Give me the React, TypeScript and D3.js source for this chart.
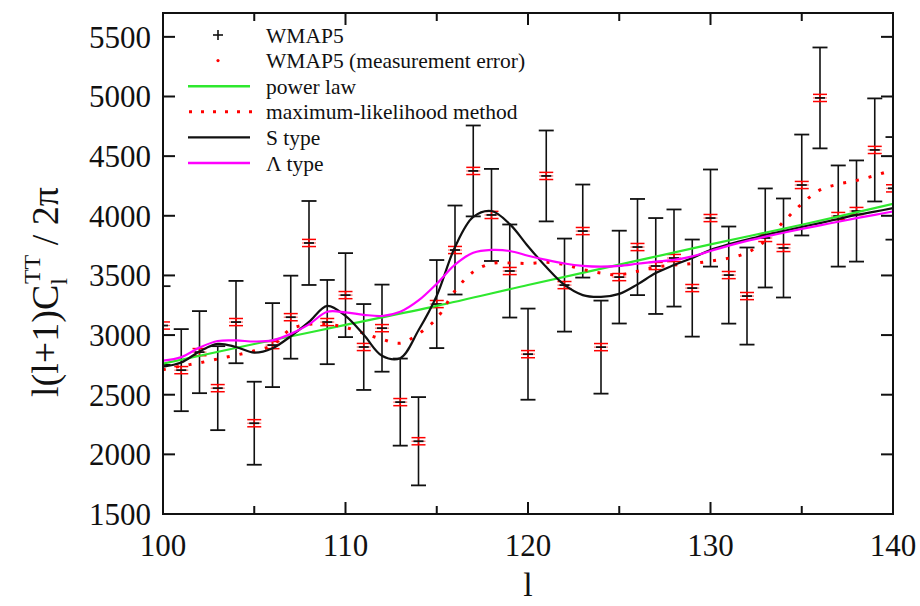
import React from "react";
import * as d3 from "d3";

// ---- data ----
const multipoles = [100, 101, 102, 103, 104, 105, 106, 107, 108, 109, 110, 111, 112, 113, 114, 115, 116, 117, 118, 119, 120,
  121, 122, 123, 124, 125, 126, 127, 128, 129, 130, 131, 132, 133, 134, 135, 136, 137, 138, 139, 140];
const wmapValues = [3080, 2706, 2857, 2555, 3109, 2261, 2916, 3150, 3772, 3109, 3335, 2900, 3058, 2438, 2110, 3260, 3713, 4376, 4007, 3537, 2840,
  4334, 3419, 3872, 2899, 3486, 3738, 3579, 3646, 3394, 3981, 3503, 3327, 3814, 3730, 4258, 4988, 3998, 4040, 4552, 4230];
const wmapErrors = [330, 344, 344, 352, 345, 348, 352, 348, 352, 353, 352, 360, 365, 365, 370, 369, 373, 381, 386, 390, 382,
  381, 390, 390, 390, 389, 403, 402, 407, 407, 407, 407, 407, 415, 415, 423, 423, 424, 424, 432, 430];
const measErrors = [30, 30, 30, 30, 30, 30, 30, 30, 30, 30, 30, 30, 30, 30, 30, 30, 30, 30, 30, 30, 30,
  30, 30, 30, 30, 30, 30, 30, 30, 30, 30, 30, 30, 30, 30, 30, 30, 30, 30, 30, 30];

const powerLawL = [100, 105, 110, 115, 120, 125, 130, 135, 140];
const powerLawValues = [2760, 2925, 3085, 3245, 3420, 3590, 3760, 3925, 4100];

const sTypeValues = [2735, 2770, 2862, 2926, 2900, 2853, 2890, 2990, 3110, 3245, 3160, 3002, 2826, 2806, 3040, 3330, 3738, 3990, 4040, 3930, 3745,
  3570, 3420, 3335, 3320, 3345, 3425, 3520, 3587, 3646, 3713, 3760, 3800, 3839, 3872, 3906, 3939, 3973, 4007, 4035, 4064];
const lambdaTypeValues = [2785, 2815, 2895, 2950, 2955, 2946, 2955, 3010, 3090, 3195, 3190, 3170, 3160, 3195, 3290, 3430, 3590, 3690, 3714, 3705, 3665,
  3630, 3600, 3580, 3573, 3580, 3598, 3615, 3630, 3660, 3705, 3750, 3790, 3825, 3858, 3890, 3920, 3950, 3980, 4008, 4036];
const mlValues = [2710, 2740, 2767, 2800, 2832, 2868, 2915, 3050, 3090, 3090, 3065, 3015, 2965, 2932, 3010, 3140, 3370, 3530, 3600, 3605, 3600,
  3610, 3590, 3550, 3520, 3505, 3535, 3570, 3587, 3600, 3620, 3645, 3690, 3790, 3950, 4100, 4217, 4265, 4296, 4337, 4385];

const xMajorTicks = [100, 110, 120, 130, 140];
const xMinorTicks = [105, 115, 125, 135];
const yTicks = [1500, 2000, 2500, 3000, 3500, 4000, 4500, 5000, 5500];

const legendLabels = ["WMAP5", "WMAP5 (measurement error)", "power law", "maximum-likelihood method", "S type", "\u039B type"];

// ---- layout ----
const W = 920, H = 606;
const left = 163, right = 893, top = 13, bottom = 514;
const FONT = "Liberation Serif, Times New Roman, serif";

export default function App() {
  const x = d3.scaleLinear().domain([100, 140]).range([left, right]);
  const y = d3.scaleLinear().domain([1500, 5700]).range([bottom, top]);

  const line = d3.line<[number, number]>().x(d => x(d[0])).y(d => y(d[1])).curve(d3.curveCatmullRom.alpha(0.5));
  const zip = (ls: number[], vs: number[]) => ls.map((l, i) => [l, vs[i]] as [number, number]);

  const green = "#2ee82e";
  const magenta = "#ff00ff";
  const red = "#ff0000";
  const ink = "#111";

  const legendY = (i: number) => 35 + i * 25.6;
  const txt = { fontFamily: FONT };

  return (
    <svg width={W} height={H} style={{ position: "absolute", left: 0, top: 0, background: "#fff", fontFamily: FONT }}>
      <defs>
        <clipPath id="plotclip">
          <rect x={left} y={top} width={right - left} height={bottom - top} />
        </clipPath>
      </defs>
      <rect x={0} y={0} width={W} height={H} fill="#fff" />

      <g clipPath="url(#plotclip)">
        {/* error bars */}
        {multipoles.map((l, i) => {
          const cx = x(l);
          const yt = y(wmapValues[i] + wmapErrors[i]);
          const yb = y(wmapValues[i] - wmapErrors[i]);
          const yc = y(wmapValues[i]);
          const mt = y(wmapValues[i] + measErrors[i]);
          const mb = y(wmapValues[i] - measErrors[i]);
          return (
            <g key={l}>
              <line x1={cx} x2={cx} y1={yt} y2={yb} stroke={ink} strokeWidth={1.6} />
              <line x1={cx - 7.5} x2={cx + 7.5} y1={yt} y2={yt} stroke={ink} strokeWidth={1.8} />
              <line x1={cx - 7.5} x2={cx + 7.5} y1={yb} y2={yb} stroke={ink} strokeWidth={1.8} />
              <line x1={cx} x2={cx} y1={mt} y2={mb} stroke={red} strokeWidth={1.4} />
              <line x1={cx - 7} x2={cx + 7} y1={mt} y2={mt} stroke={red} strokeWidth={1.5} />
              <line x1={cx - 7} x2={cx + 7} y1={mb} y2={mb} stroke={red} strokeWidth={1.5} />
              <line x1={cx - 7} x2={cx + 7} y1={yc} y2={yc} stroke={red} strokeWidth={1.2} opacity={0.6} />
              <line x1={cx - 5} x2={cx + 5} y1={yc} y2={yc} stroke={ink} strokeWidth={1.8} />
            </g>
          );
        })}
        {/* curves */}
        <path d={line(zip(powerLawL, powerLawValues)) || ""} fill="none" stroke={green} strokeWidth={2.2} />
        <path d={line(zip(multipoles, mlValues)) || ""} fill="none" stroke={red} strokeWidth={3} strokeDasharray="3 10" />
        <path d={line(zip(multipoles, sTypeValues)) || ""} fill="none" stroke={ink} strokeWidth={2.2} />
        <path d={line(zip(multipoles, lambdaTypeValues)) || ""} fill="none" stroke={magenta} strokeWidth={2.2} />
      </g>

      {/* frame */}
      <rect x={left} y={top} width={right - left} height={bottom - top} fill="none" stroke={ink} strokeWidth={2} />

      {/* x ticks */}
      {xMajorTicks.map(t => (
        <g key={"xm" + t}>
          <line x1={x(t)} x2={x(t)} y1={bottom} y2={bottom - 12} stroke={ink} strokeWidth={2} />
          <line x1={x(t)} x2={x(t)} y1={top} y2={top + 12} stroke={ink} strokeWidth={2} />
          <text x={x(t)} y={556} textAnchor="middle" fontSize={31} fill={ink} style={txt}>{t}</text>
        </g>
      ))}
      {xMinorTicks.map(t => (
        <g key={"xn" + t}>
          <line x1={x(t)} x2={x(t)} y1={bottom} y2={bottom - 8} stroke={ink} strokeWidth={2} />
          <line x1={x(t)} x2={x(t)} y1={top} y2={top + 8} stroke={ink} strokeWidth={2} />
        </g>
      ))}
      {/* y ticks */}
      {yTicks.map(t => (
        <g key={"y" + t}>
          <line x1={left} x2={left + 12} y1={y(t)} y2={y(t)} stroke={ink} strokeWidth={2} />
          <line x1={right} x2={right - 12} y1={y(t)} y2={y(t)} stroke={ink} strokeWidth={2} />
          <text x={151} y={y(t)} dy="0.35em" textAnchor="end" fontSize={31} fill={ink} style={txt}>{t}</text>
        </g>
      ))}

      {/* axis titles */}
      <text x={528} y={596} textAnchor="middle" fontSize={34} fill={ink} style={txt}>l</text>
      <text transform="translate(58,292) rotate(-90)" textAnchor="middle" fontSize={38} fill={ink} style={txt}>
        <tspan>l(l+1)C</tspan>
        <tspan fontSize={24} dy={9}>l</tspan>
        <tspan fontSize={24} dx={-6} dy={-27}>TT</tspan>
        <tspan dy={18}> / 2π</tspan>
      </text>

      {/* legend */}
      <g fontSize={21.5} fill={ink} style={txt}>
        <g>
          <line x1={213} x2={223} y1={legendY(0)} y2={legendY(0)} stroke={ink} strokeWidth={1.6} />
          <line x1={218} x2={218} y1={legendY(0) - 5} y2={legendY(0) + 5} stroke={ink} strokeWidth={1.6} />
          <text x={266} y={legendY(0)} dy="0.35em">{legendLabels[0]}</text>
        </g>
        <g>
          <circle cx={218} cy={legendY(1)} r={1.6} fill={red} />
          <text x={266} y={legendY(1)} dy="0.35em">{legendLabels[1]}</text>
        </g>
        <g>
          <line x1={188} x2={250} y1={legendY(2)} y2={legendY(2)} stroke={green} strokeWidth={2.4} />
          <text x={266} y={legendY(2)} dy="0.35em">{legendLabels[2]}</text>
        </g>
        <g>
          <line x1={189} x2={252} y1={legendY(3)} y2={legendY(3)} stroke={red} strokeWidth={3} strokeDasharray="3 9" />
          <text x={266} y={legendY(3)} dy="0.35em">{legendLabels[3]}</text>
        </g>
        <g>
          <line x1={188} x2={250} y1={legendY(4)} y2={legendY(4)} stroke={ink} strokeWidth={2.4} />
          <text x={266} y={legendY(4)} dy="0.35em">{legendLabels[4]}</text>
        </g>
        <g>
          <line x1={188} x2={250} y1={legendY(5)} y2={legendY(5)} stroke={magenta} strokeWidth={2.4} />
          <text x={266} y={legendY(5)} dy="0.35em">{legendLabels[5]}</text>
        </g>
      </g>
    </svg>
  );
}
